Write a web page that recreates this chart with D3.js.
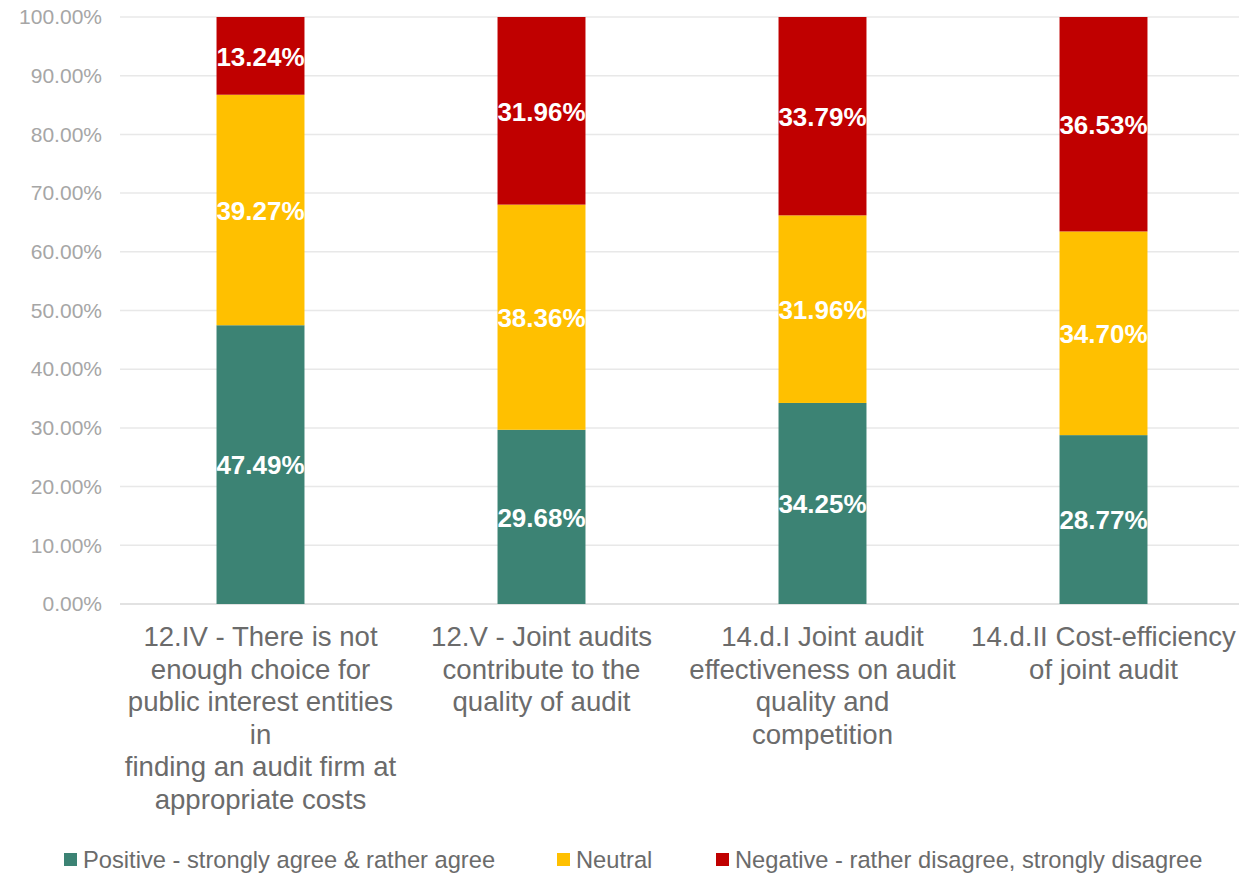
<!DOCTYPE html>
<html>
<head>
<meta charset="utf-8">
<script src="https://cdn.jsdelivr.net/npm/d3@7"></script>
<style>
  body { margin: 0; background: #fff; }
  text { font-family: "Liberation Sans", Arial, sans-serif; }
</style>
</head>
<body>
<svg width="1239" height="873"></svg>
<script>
// chart data
var categories = [
  ["12.IV - There is not", "enough choice for", "public interest entities", "in", "finding an audit firm at", "appropriate costs"],
  ["12.V - Joint audits", "contribute to the", "quality of audit"],
  ["14.d.I Joint audit", "effectiveness on audit", "quality and", "competition"],
  ["14.d.II Cost-efficiency", "of joint audit"]
];
var seriesNames = ["Positive - strongly agree & rather agree", "Neutral", "Negative - rather disagree, strongly disagree"];
var positive = [47.49, 29.68, 34.25, 28.77];
var neutral = [39.27, 38.36, 31.96, 34.70];
var negative = [13.24, 31.96, 33.79, 36.53];
var yTicks = [0, 10, 20, 30, 40, 50, 60, 70, 80, 90, 100];
var colors = ["#3c8374", "#ffc000", "#c00000"];

var svg = d3.select("svg");

var x = d3.scaleBand()
  .domain(d3.range(categories.length))
  .range([120, 1244])
  .paddingInner(0.687)
  .paddingOuter(0.3435);

var y = d3.scaleLinear().domain([0, 100]).range([604, 17]);

// grid lines
svg.append("g")
  .selectAll("line")
  .data(yTicks)
  .enter().append("line")
  .attr("x1", 120)
  .attr("x2", 1239)
  .attr("y1", function(d) { return y(d); })
  .attr("y2", function(d) { return y(d); })
  .attr("stroke", function(d) { return d == 0 ? "#d9d9d9" : "#e8e8e8"; })
  .attr("stroke-width", 1.5);

// y axis labels
var yAxis = d3.axisLeft(y)
  .tickValues(yTicks)
  .tickSize(0)
  .tickPadding(0)
  .tickFormat(function(d) { return d.toFixed(2) + "%"; });

var gy = svg.append("g")
  .attr("transform", "translate(102,0)")
  .call(yAxis);
gy.select(".domain").remove();
gy.selectAll("text")
  .attr("fill", "#a6a6a6")
  .style("font-size", "21px")
  .style("font-family", "'Liberation Sans', Arial, sans-serif");

// stack
var rows = categories.map(function(c, i) {
  return { i: i, s0: positive[i], s1: neutral[i], s2: negative[i] };
});
var stack = d3.stack().keys(["s0", "s1", "s2"]);
var layers = stack(rows);

var groups = svg.append("g")
  .selectAll("g")
  .data(layers)
  .enter().append("g")
  .attr("fill", function(d, i) { return colors[i]; });

groups.selectAll("rect")
  .data(function(d) { return d; })
  .enter().append("rect")
  .attr("x", function(d) { return x(d.data.i); })
  .attr("width", x.bandwidth())
  .attr("y", function(d) { return y(d[1]); })
  .attr("height", function(d) { return y(d[0]) - y(d[1]); });

// value labels
groups.selectAll("text")
  .data(function(d) { return d; })
  .enter().append("text")
  .attr("x", function(d) { return x(d.data.i) + x.bandwidth() / 2; })
  .attr("y", function(d) { return y((d[0] + d[1]) / 2); })
  .attr("dy", "0.38em")
  .attr("text-anchor", "middle")
  .attr("fill", "#fff")
  .style("font-size", "26px")
  .style("font-weight", "bold")
  .text(function(d) { return (d[1] - d[0]).toFixed(2) + "%"; });

// category labels
var cat = svg.append("g")
  .selectAll("text")
  .data(categories)
  .enter().append("text")
  .attr("text-anchor", "middle")
  .attr("fill", "#6b6b6b")
  .style("font-size", "27.6px");

cat.selectAll("tspan")
  .data(function(d, i) { return d.map(function(t) { return { t: t, i: i }; }); })
  .enter().append("tspan")
  .attr("x", function(d) { return x(d.i) + x.bandwidth() / 2; })
  .attr("y", function(d, j) { return 646 + j * 32.5; })
  .text(function(d) { return d.t; });

// legend
var legendX = [64, 557, 716];
var legend = svg.append("g")
  .selectAll("g")
  .data(seriesNames)
  .enter().append("g")
  .attr("transform", function(d, i) { return "translate(" + legendX[i] + ",853)"; });

legend.append("rect")
  .attr("width", 13)
  .attr("height", 13)
  .attr("fill", function(d, i) { return colors[i]; });

legend.append("text")
  .attr("x", 19)
  .attr("y", 7)
  .attr("dy", "0.35em")
  .attr("fill", "#6b6b6b")
  .style("font-size", "23.7px")
  .text(function(d) { return d; });
</script>
</body>
</html>
